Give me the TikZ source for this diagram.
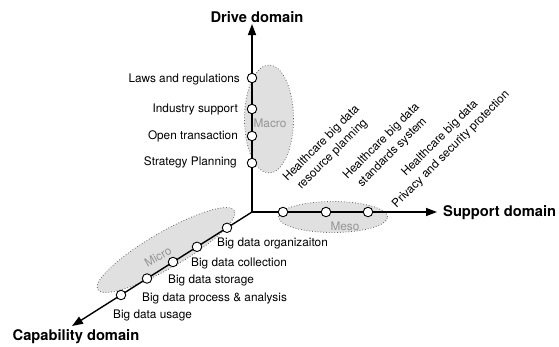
\documentclass[tikz,border=0pt]{standalone}
\usepackage{fontspec}
\setmainfont{TeX Gyre Heros}
\usetikzlibrary{arrows.meta,shapes.geometric}

\tikzset{
  axis/.style={line width=1.4pt, -{Triangle[length=11pt,width=8pt]}},
  dot/.style={circle, draw, fill=white, line width=0.9pt, minimum size=9.5pt, inner sep=0pt},
  zone/.style={ellipse, draw=black!60, dotted, line width=0.8pt, fill=black!12, inner sep=0pt},
  lbl/.style={inner sep=0pt, font=\fontsize{11.8}{14.5}\selectfont},
  zlbl/.style={lbl, text=black!42},
  title/.style={inner sep=0pt, font=\fontsize{14.7}{17}\selectfont\bfseries},
  rlbl/.style={inner sep=0pt, font=\fontsize{11.8}{15.5}\selectfont, rotate=45, align=center},
}

\begin{document}
\begin{tikzpicture}[x=1pt, y=-1pt]
\useasboundingbox (0,0) rectangle (559,346);

% shaded level zones
\node[zone, minimum width=49pt, minimum height=108pt] (macro) at (269,119) {};
\node[zone, minimum width=109pt, minimum height=31pt] (meso) at (333,217) {};
\node[zone, minimum width=158pt, minimum height=36pt, rotate=30] (micro) at (166,250) {};

\node[zlbl] (macrot) at (270,123) {Macro};
\node[zlbl] (mesot) at (345,226) {Meso};
\node[zlbl, rotate=30] (microt) at (158,257) {Micro};

% axes
\coordinate (o) at (252,212);
\coordinate (ytip) at (252,24);
\coordinate (xtip) at (437,212);
\coordinate (ztip) at (72,326);
\draw[axis] (o) -- (ytip);
\draw[axis] (o) -- (xtip);
\draw[axis] (o) -- (ztip);

\node[title] (drive) at (257,17) {Drive domain};
\node[title, anchor=west] (support) at (443,213) {Support domain};
\node[title] (capab) at (76,337) {Capability domain};

% drive domain items
\node[dot] (d1) at (252,78) {};
\node[dot] (d2) at (252,109) {};
\node[dot] (d3) at (252,136) {};
\node[dot] (d4) at (252,163) {};
\node[lbl, anchor=east] (d1t) at (240,79) {Laws and regulations};
\node[lbl, anchor=east] (d2t) at (238,109) {Industry support};
\node[lbl, anchor=east] (d3t) at (238,136) {Open transaction};
\node[lbl, anchor=east] (d4t) at (237,162) {Strategy Planning};

% support domain items
\node[dot] (s1) at (283,212) {};
\node[dot] (s2) at (326,212) {};
\node[dot] (s3) at (368,212) {};
\node[rlbl] (s1t) at (327,149) {Healthcare big data\\resource planning};
\node[rlbl] (s2t) at (387,147) {Healthcare big data\\standards system};
\node[rlbl] (s3t) at (445.5,144) {Healthcare big data\\Privacy and security protection};

% capability domain items
\node[dot] (c1) at (227,227.8) {};
\node[dot] (c2) at (197,246.8) {};
\node[dot] (c3) at (173,262) {};
\node[dot] (c4) at (147,278.5) {};
\node[dot] (c5) at (121,295) {};
\node[lbl, anchor=west] (c1t) at (217,243) {Big data organizaiton};
\node[lbl, anchor=west] (c2t) at (191,263) {Big data collection};
\node[lbl, anchor=west] (c3t) at (168,280) {Big data storage};
\node[lbl, anchor=west] (c4t) at (142,298) {Big data process \& analysis};
\node[lbl, anchor=west] (c5t) at (113,315) {Big data usage};
\end{tikzpicture}
\end{document}
